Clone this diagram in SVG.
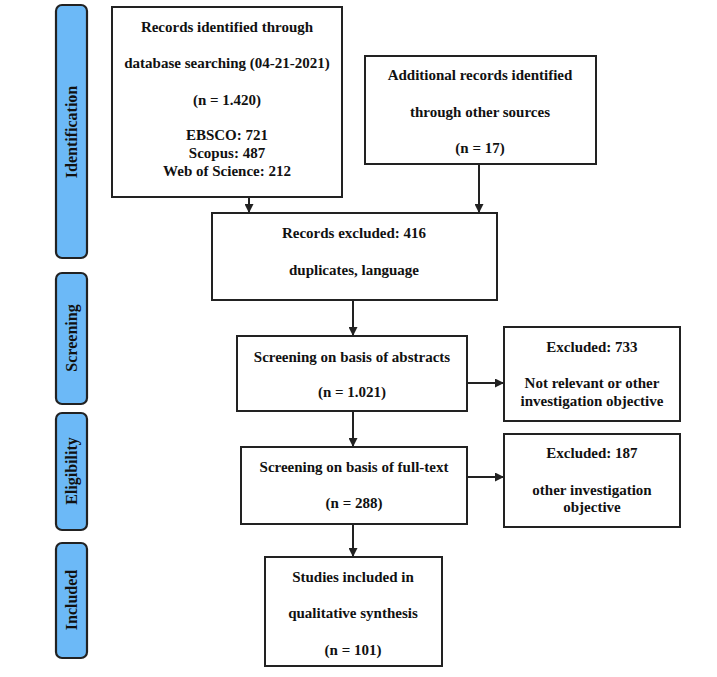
<svg xmlns="http://www.w3.org/2000/svg" width="717" height="677" viewBox="0 0 717 677">
<style>
.box{fill:#fff;stroke:#222;stroke-width:2}
.side{fill:#6cb9f7;stroke:#222;stroke-width:2.2}
.t{font-family:"Liberation Serif","Times New Roman",serif;font-weight:bold;font-size:15px;fill:#111;text-anchor:middle}
.s{font-size:16px}
.c{stroke:#222;stroke-width:2;fill:none}
</style>
<defs>
<marker id="ah" viewBox="0 0 10 10" refX="10" refY="5" markerWidth="9" markerHeight="9" markerUnits="userSpaceOnUse" orient="auto">
<path d="M0,0 L10,5 L0,10 z" fill="#222"/>
</marker>
</defs>
<rect width="717" height="677" fill="#fff"/>
<g id="phase-identification"><rect class="side" x="56" y="5" width="31" height="253" rx="6"/><text class="t s" transform="translate(77,132) rotate(-90)">Identification</text></g>
<g id="phase-screening"><rect class="side" x="56" y="273" width="31" height="131" rx="6"/><text class="t s" transform="translate(77,338) rotate(-90)">Screening</text></g>
<g id="phase-eligibility"><rect class="side" x="56" y="413" width="31" height="117" rx="6"/><text class="t s" transform="translate(77,471) rotate(-90)">Eligibility</text></g>
<g id="phase-included"><rect class="side" x="56" y="543" width="31" height="115" rx="6"/><text class="t s" transform="translate(77,600) rotate(-90)">Included</text></g>

<g id="connectors">
<line class="c" x1="249" y1="197" x2="249" y2="213" marker-end="url(#ah)"/>
<line class="c" x1="479" y1="164" x2="479" y2="213" marker-end="url(#ah)"/>
<line class="c" x1="353" y1="300" x2="353" y2="336" marker-end="url(#ah)"/>
<line class="c" x1="467" y1="383" x2="504" y2="383" marker-end="url(#ah)"/>
<line class="c" x1="353" y1="411" x2="353" y2="447" marker-end="url(#ah)"/>
<line class="c" x1="467" y1="477" x2="504" y2="477" marker-end="url(#ah)"/>
<line class="c" x1="353" y1="524" x2="353" y2="557" marker-end="url(#ah)"/>
</g>

<g id="records-db"><rect class="box" x="112" y="7" width="230" height="190"/>
<text class="t" x="227" y="32">Records identified through</text>
<text class="t" x="227" y="68">database searching (04-21-2021)</text>
<text class="t" x="227" y="105">(n = 1.420)</text>
<text class="t" x="227" y="140">EBSCO: 721</text>
<text class="t" x="227" y="158">Scopus: 487</text>
<text class="t" x="227" y="176">Web of Science: 212</text></g>

<g id="records-other"><rect class="box" x="365" y="56" width="231" height="108"/>
<text class="t" x="480" y="80">Additional records identified</text>
<text class="t" x="480" y="117">through other sources</text>
<text class="t" x="480" y="153">(n = 17)</text></g>

<g id="records-excluded"><rect class="box" x="212" y="213" width="285" height="87"/>
<text class="t" x="354" y="238">Records excluded: 416</text>
<text class="t" x="354" y="275">duplicates, language</text></g>

<g id="screen-abstracts"><rect class="box" x="237" y="336" width="230" height="75"/>
<text class="t" x="352" y="362">Screening on basis of abstracts</text>
<text class="t" x="352" y="397">(n = 1.021)</text></g>

<g id="excluded-733"><rect class="box" x="504" y="327" width="176" height="94"/>
<text class="t" x="592" y="352">Excluded: 733</text>
<text class="t" x="592" y="388">Not relevant or other</text>
<text class="t" x="592" y="406">investigation objective</text></g>

<g id="screen-fulltext"><rect class="box" x="241" y="447" width="226" height="77"/>
<text class="t" x="354" y="472">Screening on basis of full-text</text>
<text class="t" x="354" y="508">(n = 288)</text></g>

<g id="excluded-187"><rect class="box" x="504" y="434" width="176" height="93"/>
<text class="t" x="592" y="458">Excluded: 187</text>
<text class="t" x="592" y="495">other investigation</text>
<text class="t" x="592" y="512">objective</text></g>

<g id="included"><rect class="box" x="265" y="557" width="177" height="109"/>
<text class="t" x="353" y="582">Studies included in</text>
<text class="t" x="353" y="618">qualitative synthesis</text>
<text class="t" x="353" y="655">(n = 101)</text></g>
</svg>
